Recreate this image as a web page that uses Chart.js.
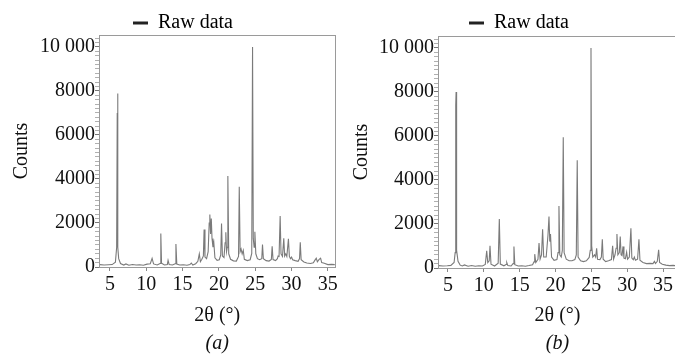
<!DOCTYPE html>
<html><head><meta charset="utf-8">
<script src="https://cdn.jsdelivr.net/npm/chart.js@4"></script>
<style>
html,body{margin:0;padding:0;background:#fff;overflow:hidden;width:675px;height:356px;position:relative;}
.wrap{position:absolute;top:0;height:356px;}
#wa{left:0;width:340px;}
#wb{left:337px;width:345px;}
canvas{display:block;}
</style></head><body>
<div id="wa" class="wrap"><canvas id="ca" width="340" height="356"></canvas></div>
<div id="wb" class="wrap"><canvas id="cb" width="345" height="356"></canvas></div>
<script>
const seriesLabel = 'Raw data';
const xTitle = '2θ (°)';
const yTitle = 'Counts';
const panelTags = ['(a)', '(b)'];
const xTicks = [5, 10, 15, 20, 25, 30, 35];
const yTicks = [0, 2000, 4000, 6000, 8000, 10000];
const yTickLabels = ['0', '2000', '4000', '6000', '8000', '10 000'];

const thetaA = [3.6, 4.2, 4.8, 5.3, 5.75, 5.92, 6.0, 6.05, 6.1, 6.2,
  6.45, 6.9, 7.2, 7.6, 8.1, 8.6, 9.1, 9.6, 10.1, 10.55,
  10.8, 11.0, 11.5, 11.9, 12.0, 12.1, 12.5, 12.9, 13.0, 13.15,
  13.6, 13.98, 14.08, 14.2, 14.6, 15.1, 15.6, 16.0, 16.2, 16.4,
  16.8, 17.1, 17.3, 17.45, 17.65, 17.86, 17.96, 18.08, 18.3, 18.52,
  18.66, 18.75, 18.85, 18.95, 19.05, 19.18, 19.3, 19.45, 19.75, 20.05,
  20.25, 20.36, 20.48, 20.7, 20.85, 20.95, 21.05, 21.15, 21.23, 21.35,
  21.6, 22.0, 22.4, 22.7, 22.8, 22.92, 23.05, 23.2, 23.35, 23.5,
  23.9, 24.3, 24.52, 24.63, 24.73, 24.85, 24.95, 25.08, 25.3, 25.6,
  25.9, 26.0, 26.12, 26.5, 26.9, 27.22, 27.33, 27.45, 27.8, 28.05,
  28.15, 28.28, 28.43, 28.55, 28.75, 28.93, 29.05, 29.2, 29.35, 29.57,
  29.7, 29.85, 30.0, 30.15, 30.5, 30.9, 31.1, 31.2, 31.32, 31.7,
  32.1, 32.6, 33.0, 33.2, 33.4, 33.55, 33.8, 34.0, 34.15, 34.5,
  35.0, 35.5, 35.95];
const countsA = [110, 90, 100, 110, 220, 900, 7000, 7880, 900, 380,
  160, 90, 140, 80, 110, 90, 100, 80, 130, 150,
  390, 140, 90, 160, 1520, 170, 90, 110, 300, 110,
  90, 150, 1040, 130, 90, 100, 80, 110, 180, 90,
  150, 260, 600, 240, 350, 500, 1700, 450, 380, 700,
  2000, 2380, 1500, 2200, 1300, 900, 1100, 420, 300, 330,
  550, 1980, 500, 430, 1100, 1580, 700, 900, 4130, 600,
  350, 280, 270, 480, 3640, 700, 820, 600, 760, 350,
  290, 330, 620, 10000, 1300, 900, 1600, 600, 380, 330,
  380, 1020, 380, 290, 270, 340, 940, 340, 290, 380,
  500, 480, 2320, 600, 480, 1300, 500, 600, 480, 1280,
  480, 380, 450, 330, 290, 260, 380, 1120, 330, 230,
  180, 160, 190, 300, 400, 240, 350, 400, 200, 170,
  110, 120, 110];

const thetaB = [3.7, 4.3, 4.9, 5.4, 5.85, 6.0, 6.08, 6.13, 6.2, 6.4,
  6.7, 7.0, 7.3, 7.8, 8.3, 8.8, 9.3, 9.8, 10.2, 10.4,
  10.55, 10.75, 10.86, 11.0, 11.5, 12.0, 12.16, 12.3, 12.8, 13.1,
  13.2, 13.35, 13.8, 14.08, 14.2, 14.32, 14.8, 15.3, 15.8, 16.3,
  16.8, 17.0, 17.1, 17.25, 17.55, 17.7, 17.85, 18.05, 18.2, 18.35,
  18.7, 18.95, 19.09, 19.2, 19.3, 19.45, 19.8, 20.2, 20.35, 20.48,
  20.6, 20.8, 20.95, 21.08, 21.2, 21.5, 21.9, 22.3, 22.7, 22.9,
  23.03, 23.15, 23.5, 23.9, 24.3, 24.7, 24.85, 24.95, 25.05, 25.2,
  25.45, 25.6, 25.74, 25.86, 26.2, 26.4, 26.53, 26.65, 27.0, 27.4,
  27.8, 27.97, 28.1, 28.3, 28.45, 28.57, 28.7, 28.9, 29.03, 29.15,
  29.28, 29.42, 29.55, 29.75, 29.92, 30.05, 30.3, 30.52, 30.65, 30.85,
  31.0, 31.15, 31.45, 31.64, 31.78, 32.2, 32.7, 33.2, 33.6, 33.8,
  33.95, 34.2, 34.39, 34.52, 34.9, 35.4, 35.9, 36.4, 36.9];
const countsB = [110, 90, 100, 120, 250, 700, 7400, 8000, 800, 300,
  130, 90, 140, 80, 110, 80, 100, 90, 160, 780,
  250, 330, 1010, 170, 90, 220, 2220, 180, 100, 160,
  250, 110, 90, 200, 980, 150, 90, 100, 80, 110,
  150, 280, 630, 250, 400, 1130, 400, 600, 1760, 500,
  500, 1500, 2340, 1200, 1540, 500, 350, 380, 700, 2820,
  600, 500, 800, 5940, 700, 400, 330, 330, 380, 600,
  4890, 500, 330, 290, 330, 480, 800, 10000, 1000, 500,
  600, 500, 890, 400, 380, 500, 1310, 400, 290, 330,
  380, 1010, 400, 600, 900, 1540, 600, 700, 1430, 600,
  560, 980, 450, 420, 720, 400, 500, 1810, 450, 380,
  500, 350, 400, 1310, 350, 250, 200, 210, 200, 300,
  200, 300, 830, 250, 170, 130, 110, 120, 100];

const F = "'Liberation Serif', 'Times New Roman', serif";
const FS = 20;

const framePlugin = {
  id: 'frame',
  afterDraw(chart) {
    const {ctx, chartArea: a} = chart;
    ctx.save();
    ctx.strokeStyle = '#9a9a9a';
    ctx.lineWidth = 1;
    ctx.strokeRect(Math.round(a.left) + 0.5, Math.round(a.top) + 0.5,
      Math.round(a.right - a.left), Math.round(a.bottom - a.top));
    ctx.restore();
  }
};
const legendShift = {
  id: 'legendShift',
  afterLayout(chart, args, opts) {
    const lg = chart.legend;
    if (!lg || opts.center == null) return;
    const d = opts.center - (lg.left + lg.right) / 2;
    lg.left += d; lg.right += d;
  }
};

function makeChart(id, xs, ys, tag, cfg) {
  const pts = xs.map((x, i) => ({x: x, y: ys[i]}));
  return new Chart(document.getElementById(id), {
    type: 'line',
    data: {datasets: [{label: seriesLabel, data: pts, borderColor: '#7a7a7a', backgroundColor: '#222',
      borderWidth: 1.1, pointRadius: 0, tension: 0, fill: false}]},
    options: {
      responsive: false, devicePixelRatio: 1, animation: false,
      layout: {padding: {left: 0, right: cfg.padRight, top: 0, bottom: 0}},
      plugins: {
        legend: {display: true, position: 'top', maxHeight: cfg.legendH,
          labels: {boxWidth: 15, boxHeight: 3, padding: 13, color: '#111', font: {family: F, size: FS},
            generateLabels: () => [{text: seriesLabel, fillStyle: '#222', strokeStyle: '#222', lineWidth: 0, hidden: false, datasetIndex: 0}]}},
        title: {display: true, position: 'bottom', fullSize: false, text: tag, color: '#111',
          font: {family: F, size: FS, style: 'italic', weight: 'normal'}, padding: {top: 3, bottom: 0}},
        tooltip: {enabled: false},
        legendShift: {center: cfg.legendCenter}
      },
      scales: {
        x: {type: 'linear', min: cfg.xmin, max: cfg.xmax,
          afterBuildTicks: s => { s.ticks = xTicks.map(v => ({value: v})); },
          afterFit: s => { s.height = cfg.xH; },
          ticks: {autoSkip: false, maxRotation: 0, padding: 2, color: '#111', font: {family: F, size: FS},
            callback: v => String(v)},
          grid: {drawOnChartArea: false, drawTicks: true, tickLength: 4, tickColor: '#888'},
          border: {display: true, color: '#999'},
          title: {display: true, text: xTitle, color: '#111', font: {family: F, size: FS}, padding: {top: 6, bottom: 1}}
        },
        y: {type: 'linear', min: 0, max: 10540,
          afterBuildTicks: s => { const t = []; for (let v = 0; v <= 10400; v += 200) t.push({value: v}); s.ticks = t; },
          afterFit: s => { s.width = cfg.yW; },
          ticks: {autoSkip: false, padding: 0, color: '#111', font: {family: F, size: FS},
            callback: v => { const i = yTicks.indexOf(v); return i >= 0 ? yTickLabels[i] : ''; }},
          grid: {drawOnChartArea: false, drawTicks: true, tickLength: 4,
            tickColor: c => (c.tick && yTicks.includes(c.tick.value)) ? '#777' : '#b0b0b0'},
          border: {display: true, color: '#999'},
          title: {display: true, text: yTitle, color: '#111', font: {family: F, size: FS}, padding: {top: cfg.yTitlePad, bottom: 0}}
        }
      }
    },
    plugins: [framePlugin, legendShift]
  });
}

makeChart('ca', thetaA, countsA, panelTags[0],
  {xmin: 3.49, xmax: 36.05, padRight: 4, legendH: 35, legendCenter: 183, xH: 62, yW: 99, yTitlePad: 9.5});
makeChart('cb', thetaB, countsB, panelTags[1],
  {xmin: 3.605, xmax: 36.95, padRight: 5, legendH: 36, legendCenter: 182, xH: 61, yW: 101, yTitlePad: 12.7});
</script>
</body></html>
